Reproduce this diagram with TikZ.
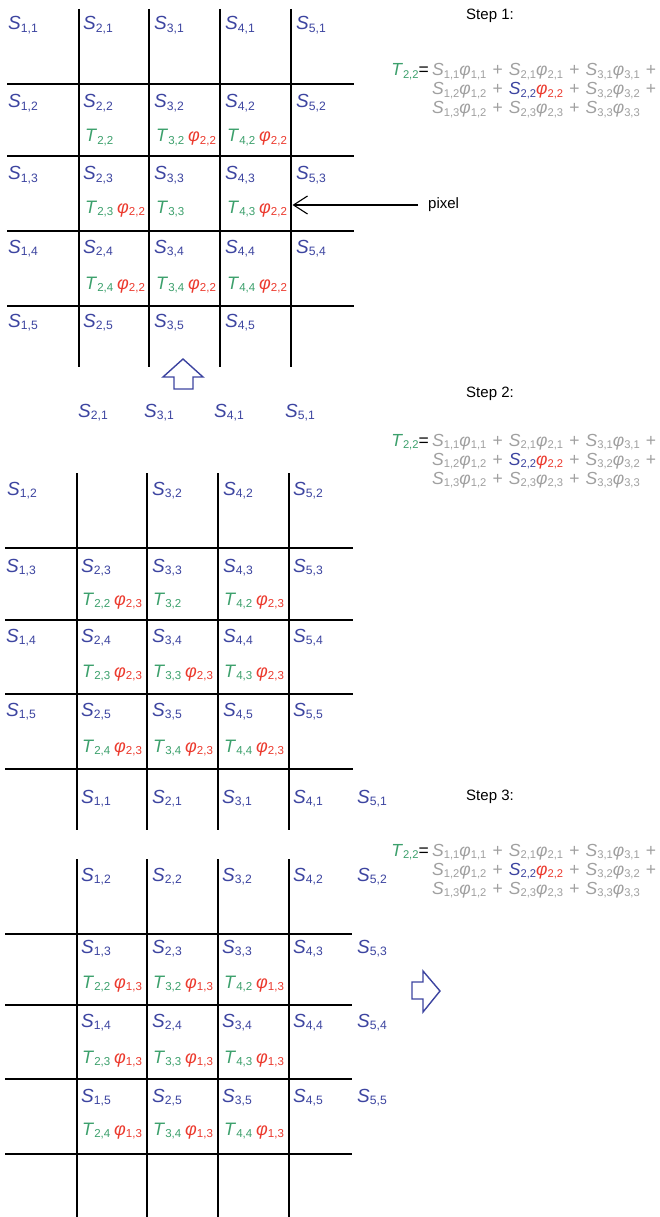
\documentclass[tikz,border=0pt]{standalone}
\usepackage{fontspec}
\setmainfont{Liberation Sans}
\usetikzlibrary{arrows.meta}
\definecolor{sblue}{RGB}{60,68,160}
\definecolor{tgreen}{RGB}{60,160,108}
\definecolor{pred}{RGB}{236,58,46}
\definecolor{fgray}{RGB}{160,160,160}
\newcommand\subs[1]{\raisebox{-0.13em}{\scalebox{0.64}{#1}}}
\newcommand\Sv[1]{\textit{S}\subs{#1}}
\newcommand\Tv[1]{\textit{T}\subs{#1}}
\newcommand\Pv[1]{\textit{φ}\subs{#1}}
\newcommand\Sb[1]{\textcolor{sblue}{\Sv{#1}}}
\newcommand\Tg[1]{\textcolor{tgreen}{\Tv{#1}}}
\newcommand\Phr[1]{\textcolor{pred}{\Pv{#1}}}
\newcommand\TP[2]{\Tg{#1}\hspace{0.22em}\Phr{#2}}
\newcommand\pl{\hspace{0.35em}+\hspace{0.35em}}
\newcommand\lineA{\Sv{1,1}\Pv{1,1}\pl\Sv{2,1}\Pv{2,1}\pl\Sv{3,1}\Pv{3,1}\pl}
\newcommand\lineB{\Sv{1,2}\Pv{1,2}\pl\Sb{2,2}\Phr{2,2}\pl\Sv{3,2}\Pv{3,2}\pl}
\newcommand\lineC{\Sv{1,3}\Pv{1,2}\pl\Sv{2,3}\Pv{2,3}\pl\Sv{3,3}\Pv{3,3}}
\tikzset{
  gridline/.style={line width=1.7pt, black},
  slab/.style={anchor=base west, inner sep=0pt, font=\fontsize{19}{19}\selectfont, text=sblue},
  tlab/.style={anchor=base west, inner sep=0pt, font=\fontsize{18}{18}\selectfont},
  steplab/.style={anchor=base, inner sep=0pt, font=\fontsize{15}{15}\selectfont},
  fline/.style={anchor=base west, inner sep=0pt, font=\fontsize{17.5}{17.5}\selectfont, text=fgray},
  fhead/.style={anchor=base east, inner sep=0pt, font=\fontsize{17.5}{17.5}\selectfont},
  blockarrow/.style={draw=sblue, line width=1.4pt, fill=white, line join=miter},
}
\begin{document}
\begin{tikzpicture}[x=1pt,y=-1pt]
\fill[white] (0,0) rectangle (659,1217);
\useasboundingbox (0,0) rectangle (659,1217);

% ---------------- Grid 1 ----------------
\foreach \x in {79,149,220,291} \draw[gridline] (\x,9) -- (\x,367);
\foreach \y in {84,156,231,306} \draw[gridline] (7,\y) -- (354,\y);
\foreach \c/\x in {1/8,2/83,3/154,4/225,5/296} {
  \foreach \r/\y in {1/30,2/108,3/180,4/253} {
    \node[slab] (a-\c-\r) at (\x,\y) {\Sv{\c,\r}};
  }
}
\foreach \c/\x in {1/8,2/83,3/154,4/225}
  \node[slab] (a-\c-5) at (\x,327) {\Sv{\c,5}};
\node[tlab] (aT22) at (85,142) {\Tg{2,2}};
\node[tlab] (aT32) at (156,142) {\TP{3,2}{2,2}};
\node[tlab] (aT42) at (227,142) {\TP{4,2}{2,2}};
\node[tlab] (aT23) at (85,213) {\TP{2,3}{2,2}};
\node[tlab] (aT33) at (156,213) {\Tg{3,3}};
\node[tlab] (aT43) at (227,213) {\TP{4,3}{2,2}};
\node[tlab] (aT24) at (85,289) {\TP{2,4}{2,2}};
\node[tlab] (aT34) at (156,289) {\TP{3,4}{2,2}};
\node[tlab] (aT44) at (227,289) {\TP{4,4}{2,2}};

% pixel arrow
\node[anchor=west, inner sep=0pt, font=\fontsize{15}{15}\selectfont] (pixel) at (428,205) {pixel};
\coordinate (pxend) at (292.5,205);
\draw[line width=1.1pt, -{Straight Barb[length=14pt,width=18pt,line width=1.1pt]}] ([xshift=-10pt]pixel.west) -- (pxend);

% up block arrow
\draw[blockarrow] (183,359) -- (203,377) -- (193,377) -- (193,389) -- (174,389) -- (174,377) -- (163,377) -- cycle;

% Step 1
\node[steplab] (step1) at (490,20) {Step 1:};
\node[fhead] (f1h) at (429,76) {\Tg{2,2}=};
\node[fline] (f1a) at (432,76) {\lineA};
\node[fline] (f1b) at (432,95) {\lineB};
\node[fline] (f1c) at (432,114) {\lineC};

% ---------------- Grid 2 ----------------
\foreach \c/\x in {2/78,3/144,4/214,5/285}
  \node[slab] (m-\c-1) at (\x,417) {\Sv{\c,1}};
\foreach \x in {77,147,218,289} \draw[gridline] (\x,473) -- (\x,830);
\foreach \y in {548,620,694,769} \draw[gridline] (5,\y) -- (353,\y);
\foreach \c/\x in {1/7,3/152,4/223,5/293}
  \node[slab] (b-\c-2) at (\x,495) {\Sv{\c,2}};
\foreach \c/\x in {1/6,2/81,3/152,4/223,5/293} {
  \foreach \r/\y in {3/572,4/642,5/716} {
    \node[slab] (b-\c-\r) at (\x,\y) {\Sv{\c,\r}};
  }
}
\node[tlab] (bT22) at (82,605) {\TP{2,2}{2,3}};
\node[tlab] (bT32) at (153,605) {\Tg{3,2}};
\node[tlab] (bT42) at (224,605) {\TP{4,2}{2,3}};
\node[tlab] (bT23) at (82,677) {\TP{2,3}{2,3}};
\node[tlab] (bT33) at (153,677) {\TP{3,3}{2,3}};
\node[tlab] (bT43) at (224,677) {\TP{4,3}{2,3}};
\node[tlab] (bT24) at (82,752) {\TP{2,4}{2,3}};
\node[tlab] (bT34) at (153,752) {\TP{3,4}{2,3}};
\node[tlab] (bT44) at (224,752) {\TP{4,4}{2,3}};
\foreach \c/\x in {1/81,2/152,3/222,4/293,5/357}
  \node[slab] (b-\c-1) at (\x,803) {\Sv{\c,1}};

% Step 2
\node[steplab] (step2) at (490,397) {Step 2:};
\node[fhead] (f2h) at (429,446) {\Tg{2,2}=};
\node[fline] (f2a) at (432,446) {\lineA};
\node[fline] (f2b) at (432,465) {\lineB};
\node[fline] (f2c) at (432,484) {\lineC};

% ---------------- Grid 3 ----------------
\foreach \x in {77,147,218,289} \draw[gridline] (\x,859) -- (\x,1217);
\foreach \y in {934,1005,1079,1154} \draw[gridline] (5,\y) -- (352,\y);
\foreach \c/\x in {1/81,2/152,3/222,4/293,5/357} {
  \foreach \r/\y in {2/881,3/953,4/1027,5/1102} {
    \node[slab] (c-\c-\r) at (\x,\y) {\Sv{\c,\r}};
  }
}
\node[tlab] (cT22) at (82,988) {\TP{2,2}{1,3}};
\node[tlab] (cT32) at (153,988) {\TP{3,2}{1,3}};
\node[tlab] (cT42) at (224,988) {\TP{4,2}{1,3}};
\node[tlab] (cT23) at (82,1063) {\TP{2,3}{1,3}};
\node[tlab] (cT33) at (153,1063) {\TP{3,3}{1,3}};
\node[tlab] (cT43) at (224,1063) {\TP{4,3}{1,3}};
\node[tlab] (cT24) at (82,1135) {\TP{2,4}{1,3}};
\node[tlab] (cT34) at (153,1135) {\TP{3,4}{1,3}};
\node[tlab] (cT44) at (224,1135) {\TP{4,4}{1,3}};

% right block arrow
\draw[blockarrow] (440,991) -- (423,1012) -- (423,999) -- (412,999) -- (412,982) -- (423,982) -- (423,971) -- cycle;

% Step 3
\node[steplab] (step3) at (490,800) {Step 3:};
\node[fhead] (f3h) at (429,856) {\Tg{2,2}=};
\node[fline] (f3a) at (432,856) {\lineA};
\node[fline] (f3b) at (432,875) {\lineB};
\node[fline] (f3c) at (432,894) {\lineC};
\end{tikzpicture}
\end{document}
